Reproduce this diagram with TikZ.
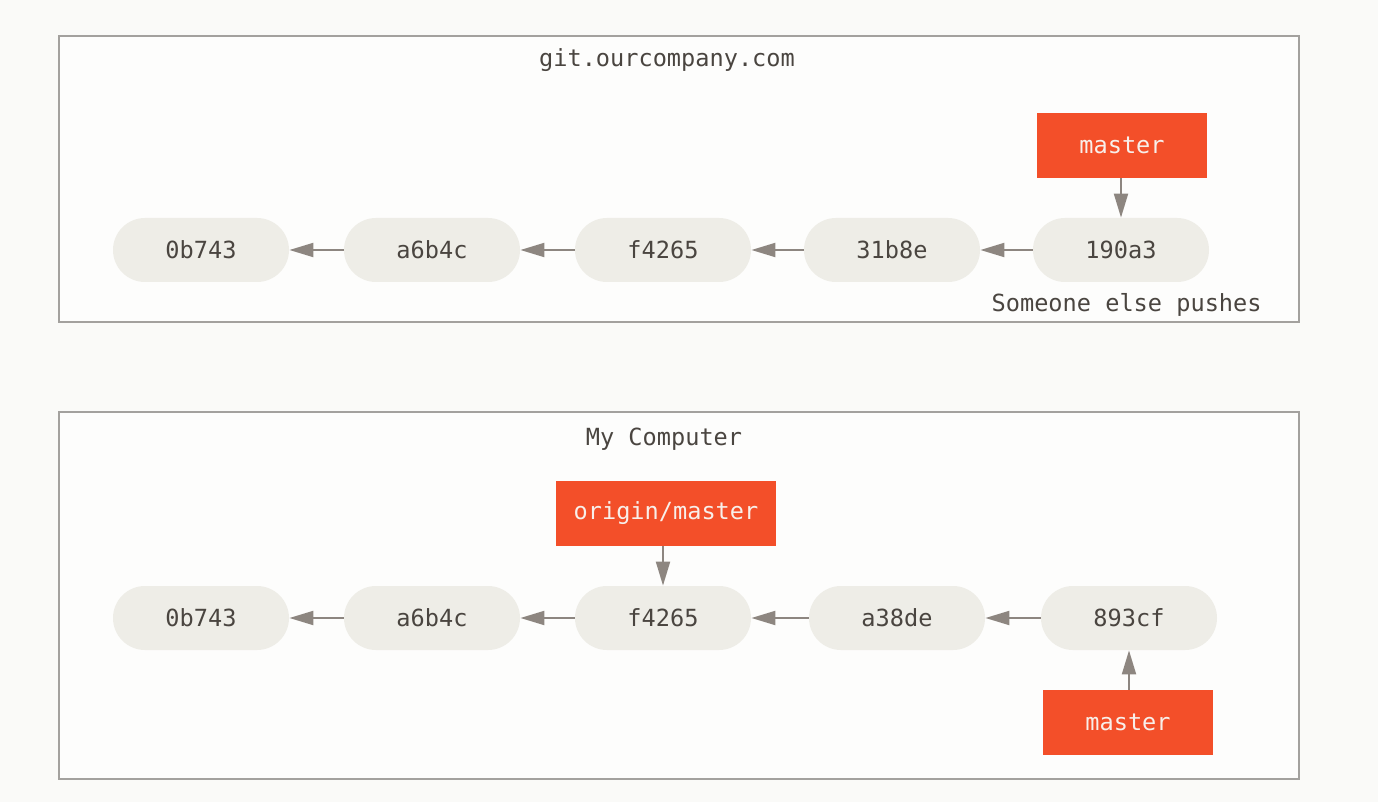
\documentclass[tikz,border=0pt]{standalone}
\usepackage{fontspec}
\setmonofont{DejaVu Sans Mono}
\usetikzlibrary{arrows.meta}
\definecolor{bg}{HTML}{FAFAF8}
\definecolor{framefill}{HTML}{FDFDFC}
\definecolor{framedraw}{HTML}{A3A19E}
\definecolor{commitfill}{HTML}{EEEDE7}
\definecolor{committext}{HTML}{4A4540}
\definecolor{branchfill}{HTML}{F34F29}
\definecolor{branchtext}{HTML}{F8EFEA}
\definecolor{arrowc}{HTML}{8D8680}
\tikzset{
  frame/.style={draw=framedraw, line width=1pt, fill=framefill},
  commit/.style={rounded corners=16pt, fill=commitfill, minimum width=88pt, minimum height=32pt, inner sep=0pt, text=committext, font=\ttfamily\fontsize{11.8}{13}\selectfont},
  branch/.style={fill=branchfill, minimum height=32.5pt, inner sep=0pt, text=branchtext, font=\ttfamily\fontsize{11.8}{13}\selectfont},
  label/.style={text=committext, font=\ttfamily\fontsize{11.8}{13}\selectfont, inner sep=0pt},
  link/.style={draw=arrowc, line width=1pt, -{Triangle[length=12pt,width=7pt]}}
}
\begin{document}
\begin{tikzpicture}[x=0.5pt,y=-0.5pt]
\fill[bg] (0,0) rectangle (1378,802);
\useasboundingbox (0,0) rectangle (1378,802);
% top frame
\draw[frame] (59,36) rectangle (1299,322);
\node[label] (t1) at (667,60) {git.ourcompany.com};
\node[commit] (a1) at (201,250) {0b743};
\node[commit] (a2) at (432,250) {a6b4c};
\node[commit] (a3) at (663,250) {f4265};
\node[commit] (a4) at (892,250) {31b8e};
\node[commit] (a5) at (1121,250) {190a3};
\node[branch, minimum width=85pt] (m1) at (1122,145.5) {master};
\node[label, anchor=east] (s1) at (1262,305) {Someone else pushes};
\draw[link] (a2) -- (a1);
\draw[link] (a3) -- (a2);
\draw[link] (a4) -- (a3);
\draw[link] (a5) -- (a4);
\draw[link] (a5 |- m1.south) -- (a5);
% bottom frame
\draw[frame] (59,412) rectangle (1299,779);
\node[label] (t2) at (664,439) {My Computer};
\node[commit] (b1) at (201,618) {0b743};
\node[commit] (b2) at (432,618) {a6b4c};
\node[commit] (b3) at (663,618) {f4265};
\node[commit] (b4) at (897,618) {a38de};
\node[commit] (b5) at (1129,618) {893cf};
\node[branch, minimum width=110pt] (o2) at (666,513.5) {origin/master};
\node[branch, minimum width=85pt] (m2) at (1128,722.5) {master};
\draw[link] (b2) -- (b1);
\draw[link] (b3) -- (b2);
\draw[link] (b4) -- (b3);
\draw[link] (b5) -- (b4);
\draw[link] (b3 |- o2.south) -- (b3);
\draw[link] (b5 |- m2.north) -- (b5);
\end{tikzpicture}
\end{document}
